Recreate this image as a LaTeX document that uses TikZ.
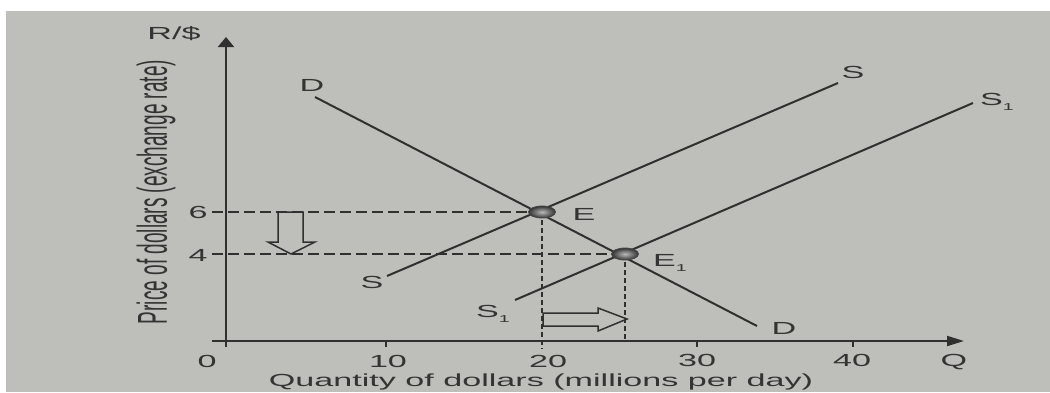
\documentclass[tikz,border=0pt]{standalone}
\usepackage{fontspec}
\usepackage{graphicx}
\setmainfont{Liberation Sans}
\usetikzlibrary{shapes.geometric,arrows.meta}
\definecolor{bg}{RGB}{190,190,187}
\definecolor{ink}{RGB}{48,48,48}
\definecolor{txt}{RGB}{52,52,52}
\newcommand\wtxt[2][1.95]{\scalebox{#1}[1]{#2}}
\newcommand\subone{\raisebox{-5pt}{\fontsize{10}{10}\selectfont 1}}
\begin{document}
\begin{tikzpicture}[x=1pt,y=-1pt,
  lbl/.style={inner sep=0pt, text=txt, font=\fontsize{17.5}{17.5}\selectfont},
  curve/.style={draw=ink, line width=2pt},
  axis/.style={draw=ink, line width=2pt},
  dashh/.style={draw=ink, line width=1.4pt, dash pattern=on 11pt off 5pt},
  dashv/.style={draw=ink, line width=1.8pt, dash pattern=on 5pt off 3pt},
  hollow/.style={draw=ink, line width=1.5pt, fill=bg, line join=miter},
  eqdot/.style={ellipse, minimum width=27pt, minimum height=12pt, inner sep=0pt,
    draw=ink!90, line width=0.8pt, inner color=gray!55, outer color=black!80}]
\useasboundingbox (0,0) rectangle (1050,392);
\fill[white] (0,0) rectangle (1050,392);
\fill[bg] (6,11) rectangle (1050,392);

% coordinates
\coordinate (O) at (226,341);
\coordinate (ytop) at (226,37);
\coordinate (ybot) at (226,347);
\coordinate (xleft) at (212,341);
\coordinate (xright) at (964,341);
\coordinate (t6) at (212,212);
\coordinate (t4) at (212,254);
\coordinate (Dhi) at (315,97);
\coordinate (Dlo) at (757,326);
\coordinate (Slo) at (387,276);
\coordinate (Shi) at (838,83);
\coordinate (S1lo) at (515,300);
\coordinate (S1hi) at (973,103);
\coordinate (q20) at (542,349);
\coordinate (q25) at (625,341);

% dashed guide lines
\draw[dashh] (t6) -- (542,212);
\draw[dashh] (t4) -- (625,254);
\draw[dashv] (542,212) -- (q20);
\draw[dashv] (625,254) -- (q25);

% axes
\draw[axis, -{Triangle[length=10pt,width=16pt]}] (ybot) -- (ytop);
\draw[axis, -{Triangle[length=17pt,width=10pt]}] (xleft) -- (xright);
\draw[axis, line width=1.5pt] (386,341) -- (386,347);
\draw[axis, line width=1.5pt] (697,341) -- (697,347);
\draw[axis, line width=1.5pt] (853,341) -- (853,347);

% curves
\draw[curve] (Dhi) -- (Dlo);
\draw[curve] (Slo) -- (Shi);
\draw[curve] (S1lo) -- (S1hi);

% equilibrium points
\node[eqdot] (E) at (542,212) {};
\node[eqdot] (E1) at (625,254) {};

% hollow arrows
\draw[hollow] (278,212) -- (278,242) -- (268,242) -- (291,254) -- (315,242) -- (303,242) -- (303,212) -- cycle;
\draw[hollow] (543,313) -- (598,313) -- (598,308) -- (627,319) -- (598,331) -- (598,326) -- (543,326) -- cycle;
\draw[dashh] (t6) -- (E);

% labels
\node[lbl] (lRS) at (174,34) {\wtxt{R/\$}};
\node[lbl] (ylab) at (156,192) {\scalebox{2.2}[1]{\rotatebox{90}{\fontsize{19}{19}\selectfont Price of dollars (exchange rate)}}};
\node[lbl] (xlab) at (541,382) {\wtxt{Quantity of dollars (millions per day)}};
\node[lbl] (l0) at (207,361) {\wtxt{0}};
\node[lbl] (l10) at (388,361) {\wtxt{10}};
\node[lbl] (l20) at (548,361) {\wtxt{20}};
\node[lbl] (l30) at (697,360) {\wtxt{30}};
\node[lbl] (l40) at (852,360) {\wtxt{40}};
\node[lbl] (lQ) at (954,362) {\wtxt{Q}};
\node[lbl] (l6) at (198,212) {\wtxt{6}};
\node[lbl] (l4) at (198,255) {\wtxt{4}};
\node[lbl] (lDtop) at (312,85) {\wtxt{D}};
\node[lbl] (lDbot) at (784,328) {\wtxt{D}};
\node[lbl] (lStop) at (853,72) {\wtxt{S}};
\node[lbl] (lSbot) at (372,282) {\wtxt{S}};
\node[lbl, anchor=base west] (lS1top) at (980,105) {\wtxt{S\subone}};
\node[lbl, anchor=base west] (lS1bot) at (476,317) {\wtxt{S\subone}};
\node[lbl] (lE) at (584,214) {\wtxt{E}};
\node[lbl, anchor=base west] (lE1) at (653,266) {\wtxt{E\subone}};
\end{tikzpicture}
\end{document}
